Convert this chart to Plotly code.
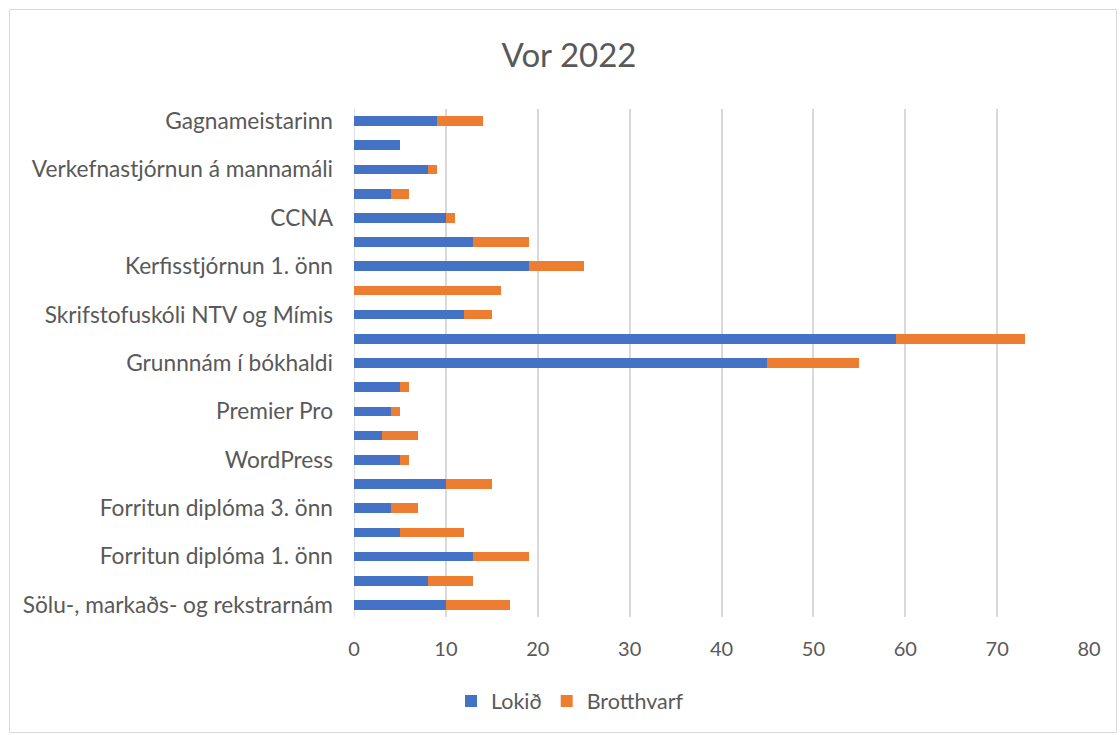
import plotly.graph_objects as go

categories = [
    "Sölu-, markaðs- og rekstrarnám",
    "Námskeið 2",
    "Forritun diplóma 1. önn",
    "Námskeið 4",
    "Forritun diplóma 3. önn",
    "Námskeið 6",
    "WordPress",
    "Námskeið 8",
    "Premier Pro",
    "Námskeið 10",
    "Grunnnám í bókhaldi",
    "Námskeið 12",
    "Skrifstofuskóli NTV og Mímis",
    "Námskeið 14",
    "Kerfisstjórnun 1. önn",
    "Námskeið 16",
    "CCNA",
    "Námskeið 18",
    "Verkefnastjórnun á mannamáli",
    "Námskeið 20",
    "Gagnameistarinn",
]
lokid = [10, 8, 13, 5, 4, 10, 5, 3, 4, 5, 45, 59, 12, 0, 19, 13, 10, 4, 8, 5, 9]
brotthvarf = [7, 5, 6, 7, 3, 5, 1, 4, 1, 1, 10, 14, 3, 16, 6, 6, 1, 2, 1, 0, 5]
labeled_ticks = categories[0::2]
x_ticks = [0, 10, 20, 30, 40, 50, 60, 70, 80]

FONT = "Lato"
GREY = "#595959"

fig = go.Figure()
fig.add_trace(go.Bar(y=categories, x=lokid, name="Lokið", orientation="h",
                     marker=dict(color="#4472C4", line=dict(width=0))))
fig.add_trace(go.Bar(y=categories, x=brotthvarf, name="Brotthvarf", orientation="h",
                     marker=dict(color="#ED7D31", line=dict(width=0))))

W, H = 1120, 735
L, R, T, B = 354, 31, 109, 118
pw, ph = W - L - R, H - T - B

def px2x(p):
    return (p - L) / pw

def px2y(p):
    return (H - B - p) / ph

fig.update_layout(
    width=W, height=H,
    barmode="stack",
    bargap=0.6,
    plot_bgcolor="white",
    paper_bgcolor="white",
    margin=dict(l=L, r=R, t=T, b=B, autoexpand=False),
    font=dict(family=FONT, color=GREY, size=20),
    title=dict(text="Vor 2022", x=px2x(569), xref="paper", xanchor="center",
               y=1 - 55 / H, yanchor="middle",
               font=dict(size=33, color=GREY, family=FONT)),
    xaxis=dict(range=[0, 80], tickvals=x_ticks, showgrid=True,
               gridcolor="#D9D9D9", gridwidth=1.5, zeroline=False,
               showline=False, ticks="", ticklabelstandoff=18,
               tickfont=dict(size=20, color=GREY, family=FONT), fixedrange=True),
    yaxis=dict(categoryorder="array", categoryarray=categories,
               range=[-0.5, len(categories) - 0.5],
               tickvals=labeled_ticks, ticktext=labeled_ticks,
               showgrid=False, zeroline=False, showline=False, ticks="",
               ticklabelstandoff=20,
               tickfont=dict(size=22.7, color=GREY, family=FONT)),
    legend=dict(orientation="h", x=px2x(570), xanchor="center",
                y=px2y(701), yanchor="middle",
                font=dict(size=21.5, color=GREY, family=FONT),
                itemwidth=30, traceorder="normal"),
    shapes=[
        dict(type="rect", xref="paper", yref="paper",
             x0=px2x(9.5), x1=px2x(1116.5), y0=px2y(732.5), y1=px2y(9.5),
             line=dict(color="#D9D9D9", width=1), fillcolor="rgba(0,0,0,0)",
             layer="below"),
        dict(type="line", xref="x", yref="paper", x0=0, x1=0, y0=0, y1=1,
             line=dict(color="#D9D9D9", width=1.5), layer="below"),
    ],
)

fig.write_html("out.html", config={"displayModeBar": False},
               post_script="document.body.style.margin='0';")
